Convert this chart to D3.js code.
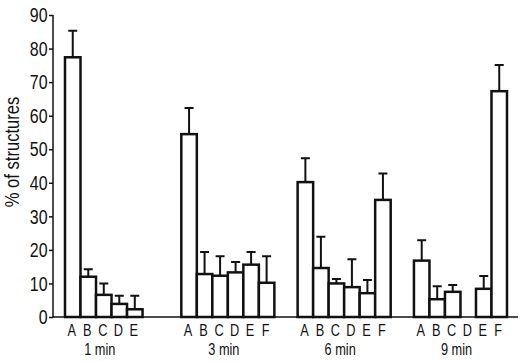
<!DOCTYPE html>
<html>
<head>
<meta charset="utf-8">
<script src="https://cdn.jsdelivr.net/npm/d3@7"></script>
<style>
  body { margin: 0; background: #fff; }
  text { font-family: "Liberation Sans", Arial, sans-serif; fill: #111; }
</style>
</head>
<body>
<svg width="520" height="362"></svg>
<script>
var times = ["1 min", "3 min", "6 min", "9 min"];
var cats = ["A", "B", "C", "D", "E", "F"];
var yTicks = [0, 10, 20, 30, 40, 50, 60, 70, 80, 90];

// mean % per category, null = not shown
var mean1 = [77.4, 12.0, 6.6, 3.9, 2.3, null];
var err1  = [7.9, 2.2, 3.4, 2.4, 4.0, null];
var mean3 = [54.5, 12.8, 12.3, 13.3, 15.6, 10.2];
var err3  = [7.8, 6.6, 5.8, 3.1, 3.8, 7.9];
var mean6 = [40.2, 14.6, 10.0, 8.9, 7.1, 34.9];
var err6  = [7.1, 9.3, 1.3, 8.3, 3.9, 7.9];
var mean9 = [16.8, 5.3, 7.5, 0, 8.4, 67.3];
var err9  = [6.1, 3.9, 2.0, 0, 3.8, 7.8];

var means = [mean1, mean3, mean6, mean9],
  errs = [err1, err3, err6, err9];

var sx = 0.75; // condensed look of the original lettering

var svg = d3.select("svg");

var x0 = d3.scaleBand().domain(times).range([65, 507]).paddingInner(0.2),
  x1 = d3.scaleBand().domain(cats).range([0, x0.bandwidth()]),
  y = d3.scaleLinear().domain([0, 90]).range([317, 15]);

var data = [];
times.forEach((t, i) => {
  cats.forEach((c, j) => {
    if (means[i][j] != null) data.push({ time: t, cat: c, v: means[i][j], e: errs[i][j] });
  });
});

// y axis
var yAxis = svg.append("g")
  .attr("transform", "translate(53,0)")
  .call(d3.axisLeft(y).tickValues(yTicks).tickSize(4).tickPadding(3));
yAxis.select(".domain").attr("stroke", "#111").attr("stroke-width", 1.5).attr("d", "M0,15V317");
yAxis.selectAll(".tick line").attr("stroke", "#111").attr("stroke-width", 1.5);
yAxis.selectAll(".tick text")
  .style("font-size", "21px")
  .attr("fill", "#111")
  .attr("x", -5.5 / 0.76)
  .attr("transform", "scale(0.76,1)");

// baseline
svg.append("line")
  .attr("x1", 53).attr("x2", 518)
  .attr("y1", y(0)).attr("y2", y(0))
  .attr("stroke", "#111").attr("stroke-width", 1.5);

var g = svg.selectAll(".bar")
  .data(data)
  .enter().append("g")
  .attr("class", "bar")
  .attr("transform", d => `translate(${x0(d.time) + x1(d.cat)},0)`);

// error bars
g.filter(d => d.v > 0).append("path")
  .attr("d", d => {
    var cx = x1.bandwidth() / 2, top = y(d.v + d.e);
    return `M${cx},${y(d.v)}V${top}M${cx - 4.5},${top}H${cx + 4.5}`;
  })
  .attr("fill", "none")
  .attr("stroke", "#111")
  .attr("stroke-width", 2);

g.filter(d => d.v > 0).append("rect")
  .attr("x", 0)
  .attr("y", d => y(d.v))
  .attr("width", x1.bandwidth())
  .attr("height", d => y(0) - y(d.v))
  .attr("fill", "#fff")
  .attr("stroke", "#111")
  .attr("stroke-width", 2.5);

g.append("text")
  .attr("transform", `translate(${x1.bandwidth() / 2 - 1},336) scale(${sx},1)`)
  .attr("text-anchor", "middle")
  .style("font-size", "17px")
  .text(d => d.cat);

// group labels
svg.selectAll(".grp")
  .data(times)
  .enter().append("text")
  .attr("class", "grp")
  .attr("transform", (d, i) => {
    var n = means[i].filter(v => v != null).length;
    return `translate(${x0(d) + x1.step() * n / 2 - 4},355) scale(${sx},1)`;
  })
  .attr("text-anchor", "middle")
  .style("font-size", "17px")
  .text(d => d);

svg.append("text")
  .attr("transform", "translate(19,152) rotate(-90) scale(0.79,1)")
  .attr("text-anchor", "middle")
  .style("font-size", "21px")
  .text("% of structures");
</script>
</body>
</html>
